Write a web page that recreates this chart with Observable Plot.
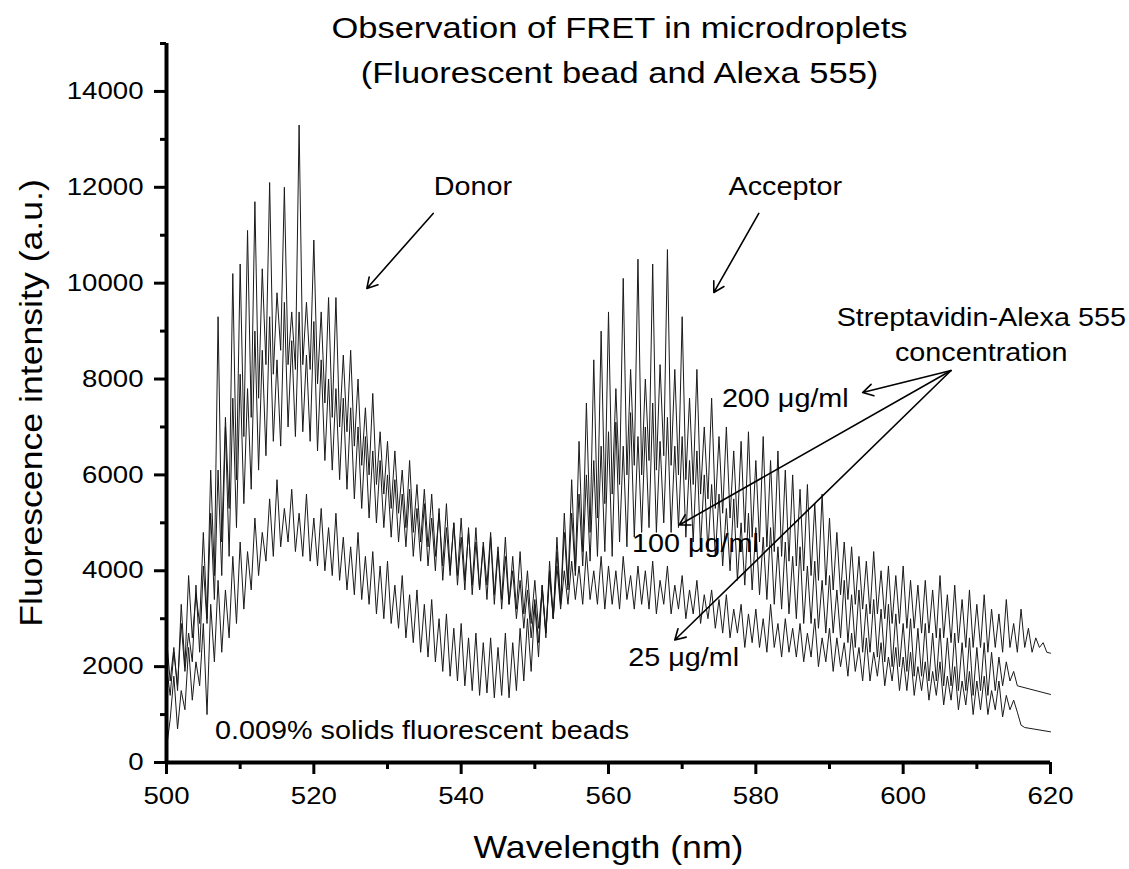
<!DOCTYPE html>
<html>
<head>
<meta charset="utf-8">
<script src="https://cdn.jsdelivr.net/npm/d3@7"></script>
<script src="https://cdn.jsdelivr.net/npm/@observablehq/plot@0.6"></script>
<style>html,body{margin:0;padding:0;background:#fff}</style>
</head>
<body>
<div id="chart"></div>
<script>
// ---------------- DATA ----------------
const wavelength = [
500,500.5,501,501.5,502,502.5,503,503.5,504,504.5,
505,505.5,506,506.5,507,507.5,508,508.5,509,509.5,
510,510.5,511,511.5,512,512.5,513,513.5,514,514.5,
515,515.5,516,516.5,517,517.5,518,518.5,519,519.5,
520,520.5,521,521.5,522,522.5,523,523.5,524,524.5,
525,525.5,526,526.5,527,527.5,528,528.5,529,529.5,
530,530.5,531,531.5,532,532.5,533,533.5,534,534.5,
535,535.5,536,536.5,537,537.5,538,538.5,539,539.5,
540,540.5,541,541.5,542,542.5,543,543.5,544,544.5,
545,545.5,546,546.5,547,547.5,548,548.5,549,549.5,
550,550.5,551,551.5,552,552.5,553,553.5,554,554.5,
555,555.5,556,556.5,557,557.5,558,558.5,559,559.5,
560,560.5,561,561.5,562,562.5,563,563.5,564,564.5,
565,565.5,566,566.5,567,567.5,568,568.5,569,569.5,
570,570.5,571,571.5,572,572.5,573,573.5,574,574.5,
575,575.5,576,576.5,577,577.5,578,578.5,579,579.5,
580,580.5,581,581.5,582,582.5,583,583.5,584,584.5,
585,585.5,586,586.5,587,587.5,588,588.5,589,589.5,
590,590.5,591,591.5,592,592.5,593,593.5,594,594.5,
595,595.5,596,596.5,597,597.5,598,598.5,599,599.5,
600,600.5,601,601.5,602,602.5,603,603.5,604,604.5,
605,605.5,606,606.5,607,607.5,608,608.5,609,609.5,
610,610.5,611,611.5,612,612.5,613,613.5,614,614.5,
615,615.5,616,616.5,617,617.5,618,618.5,619,619.5,
620];

// 25 ug/ml (strongest donor, weakest acceptor)
const conc25 = [
2600,1700,2400,1500,3300,2000,3900,2600,3500,2900,
4800,3000,6100,3900,9300,4600,7200,5300,10200,5900,
10400,6800,11100,7200,11700,7600,10300,8300,12100,8100,
9800,8600,12000,8300,9400,8200,13300,8300,9600,8200,
10900,7900,9400,7500,9700,7200,9700,7000,8500,6900,
8600,6600,8000,6200,7400,6000,7700,5800,6900,5600,
6700,5300,6500,5200,6100,4900,6300,4800,5800,4600,
5700,4500,5600,4300,5200,4100,5400,4000,5000,3900,
5100,3800,4800,3700,4900,3600,4600,3700,4800,3500,
4500,3400,4700,3300,4300,3200,4400,3100,4000,2900,
3800,2800,3600,2700,3900,3000,4100,3200,4000,3300,
4200,3400,4100,3300,4400,3400,4000,3300,4300,3200,
4100,3300,4000,3200,4300,3400,3900,3200,4100,3300,
4000,3200,4200,3100,3800,3300,4100,3100,3700,3200,
3900,3000,3600,3100,3800,2900,3500,3000,3600,2800,
3400,2700,3500,2600,3200,2700,3300,2400,3100,2500,
3200,2400,3000,2300,3300,2400,2900,2200,3000,2300,
2800,2200,2900,2100,2700,2200,3000,2000,2600,2100,
2800,1900,2600,2000,2500,1800,2700,1900,2400,1700,
2600,1700,2300,1800,2500,1600,2200,1700,2400,1500,
2200,1500,2300,1400,2000,1500,2100,1300,1900,1400,
2100,1200,1800,1300,2000,1100,1700,1200,1900,1000,
1700,1100,1800,1000,1500,1100,1700,950,1400,1100,
1300,1050,780,730,null,null,null,null,null,null,
640];

// 100 ug/ml
const conc100 = [
2000,1400,2300,1600,2900,1900,2700,2100,3700,2300,
4100,2900,5200,3400,6100,3900,7000,4300,7600,4900,
8100,5400,7800,5700,9000,6100,8600,6400,9300,6700,
8400,6600,9600,7000,8800,6800,9400,6900,8500,6700,
9200,6500,8400,6300,8000,6100,7800,5900,7600,5700,
7400,5500,7000,5300,6800,5100,6500,5000,6300,4900,
6000,4700,5900,4600,5600,4500,5700,4300,5300,4200,
5400,4100,5100,4000,5300,3800,4900,3900,5000,3700,
4700,3600,4900,3500,4600,3600,4500,3400,4700,3300,
4400,3200,4300,3300,4000,3000,3800,2800,3600,2600,
3400,2500,3700,2700,4000,3000,4400,3300,4800,3600,
5200,3900,5600,4100,6000,4200,6300,4300,6600,4400,
6900,4300,7100,4600,6600,4500,7300,4700,6800,4800,
7000,4900,7500,4800,6700,5000,7200,4800,6600,4900,
6800,4700,6300,4600,6500,4500,6000,4400,5800,4300,
5600,4100,5300,4000,5500,3800,5000,3700,5200,3600,
4900,3500,4700,3400,4900,3300,4500,3200,4600,3100,
4300,3000,4500,2900,4100,2900,4200,2800,3800,2700,
3900,2700,3600,2600,3800,2500,3500,2400,3600,2300,
3300,2300,3400,2200,3200,2100,3300,2000,3100,2000,
2900,1900,3000,1800,2800,1800,2900,1700,2700,1700,
2800,1600,2600,1600,2700,1500,2500,1500,2600,1400,
2400,1500,2500,1400,2300,1500,2200,1600,2100,1700,
1900,1600,null,null,null,null,null,null,null,null,
1420];

// 200 ug/ml (weakest donor, strongest acceptor)
const conc200 = [
300,900,1800,700,1500,1100,2400,1300,2100,1600,
2900,1000,3300,2100,3800,2300,3600,2600,4300,2900,
4600,3200,4400,3600,5100,3900,4800,4200,5500,4300,
5900,4500,5300,4600,5700,4400,5200,4300,5600,4200,
5100,4100,5300,4000,4900,3900,5200,3800,4700,3600,
4500,3500,4800,3400,4300,3300,4400,3100,4100,3000,
4200,2900,3700,2800,3900,2600,3500,2500,3600,2300,
3300,2200,3400,2100,3000,1900,3100,1800,2800,1700,
2900,1600,2600,1500,2700,1400,2500,1450,2600,1350,
2400,1400,2700,1350,2500,1500,2800,1700,3000,1900,
3300,2200,3700,2600,4200,3000,4700,3300,5200,3700,
5900,4000,6700,4400,7500,4800,8400,5100,9000,5400,
9400,5600,7800,5800,10100,6000,8200,6200,10500,6000,
8000,6300,10400,6100,8300,6400,10700,6200,8200,6000,
9300,5900,7600,5800,8200,5600,7000,5500,7600,5300,
6800,5200,7000,5100,6500,4900,6700,4800,6900,4700,
6300,4600,6800,4500,6300,4400,6500,4300,6100,4200,
6000,4100,5700,4000,5800,3900,5400,3800,5600,3700,
5100,3600,4800,3500,4600,3400,4500,3300,4300,3200,
4200,3100,4400,3100,4000,3000,4100,2900,3900,2900,
4100,2800,3800,2800,3700,2700,3800,2700,3600,2600,
3900,2600,3500,2500,3700,2500,3400,2400,3600,2400,
3300,2400,3500,2300,3200,2400,3100,2300,3400,2400,
2900,2300,3200,2400,2800,2300,2600,2400,2500,2300,
2280];

const seriesNames = ["25 μg/ml", "100 μg/ml", "200 μg/ml"];
const xMajorTicks = [500, 520, 540, 560, 580, 600, 620];
const xMinorTicks = [510, 530, 550, 570, 590, 610];
const yMajorTicks = [0, 2000, 4000, 6000, 8000, 10000, 12000, 14000];
const yMinorTicks = [1000, 3000, 5000, 7000, 9000, 11000, 13000, 15000];

const titleLines = ["Observation of FRET in microdroplets", "(Fluorescent bead and Alexa 555)"];
const xLabel = "Wavelength (nm)";
const yLabel = "Fluorescence intensity (a.u.)";

// ---------------- BUILD ----------------
const rows = [];
[conc25, conc100, conc200].forEach((vals, k) => {
  vals.forEach((v, i) => {
    if (v != null) rows.push({series: seriesNames[k], wavelength: wavelength[i], intensity: v});
  });
});

const FONT = "'Liberation Sans', Arial, Helvetica, sans-serif";
const STRETCH = 1.15;

// annotation placement (in data units)
const notes = [
  {text: "Donor", x: 541.6, y: 12000},
  {text: "Acceptor", x: 584.0, y: 12000},
  {text: "Streptavidin-Alexa 555", x: 610.6, y: 9283},
  {text: "concentration", x: 610.6, y: 8553},
  {text: "200 μg/ml", x: 584.0, y: 7593},
  {text: "100 μg/ml", x: 571.8, y: 4564},
  {text: "25 μg/ml", x: 570.2, y: 2186}
];
const footNote = [{text: "0.009% solids fluorescent beads", x: 506.6, y: 662}];
const arrows = [
  {x1: 536.2, y1: 11455, x2: 527.2, y2: 9890},
  {x1: 580.4, y1: 11455, x2: 574.3, y2: 9806},
  {x1: 606.5, y1: 8177, x2: 594.5, y2: 7718},
  {x1: 606.5, y1: 8177, x2: 569.6, y2: 4956},
  {x1: 606.5, y1: 8177, x2: 569.0, y2: 2555}
];

const W = 1129, H = 869;
const mL = 166, mR = 79, mT = 43, mB = 107;
const frameCX = mL + (W - mL - mR) / 2;
const titleCX = 619;

const svg = Plot.plot({
  width: W, height: H,
  marginLeft: mL, marginRight: mR, marginTop: mT, marginBottom: mB,
  style: {fontFamily: FONT, background: "#fff", color: "#000", overflow: "visible"},
  x: {domain: [500, 620], label: null},
  y: {domain: [0, 15000], label: null},
  marks: [
    Plot.line(rows, {x: "wavelength", y: "intensity", z: "series", stroke: "#1a1a1a", strokeWidth: 1}),
    Plot.ruleY([0], {strokeWidth: 4, stroke: "#000"}),
    Plot.ruleX([500], {strokeWidth: 4, stroke: "#000"}),
    Plot.axisX({ticks: xMajorTicks, tickSize: 12, tickPadding: 12, strokeWidth: 3, fontSize: 24, label: null, tickFormat: d => String(d)}),
    Plot.axisX({ticks: xMinorTicks, tickSize: 7, strokeWidth: 3, label: null, tickFormat: () => ""}),
    Plot.axisY({ticks: yMajorTicks, tickSize: 12, tickPadding: 11, strokeWidth: 3, fontSize: 24, label: null, tickFormat: d => String(d)}),
    Plot.axisY({ticks: yMinorTicks, tickSize: 6, strokeWidth: 3, label: null, tickFormat: () => ""}),
    Plot.text([titleLines[0]], {text: d => d, frameAnchor: "top", lineAnchor: "middle", textAnchor: "middle", dx: titleCX - frameCX, dy: 28 - mT, fontSize: 30, fill: "#000"}),
    Plot.text([titleLines[1]], {text: d => d, frameAnchor: "top", lineAnchor: "middle", textAnchor: "middle", dx: titleCX - frameCX, dy: 73 - mT, fontSize: 30, fill: "#000"}),
    Plot.text([xLabel], {text: d => d, frameAnchor: "bottom", lineAnchor: "middle", textAnchor: "middle", dy: 848 - (H - mB), fontSize: 31, fill: "#000"}),
    Plot.text([yLabel], {text: d => d, frameAnchor: "left", lineAnchor: "middle", textAnchor: "middle", rotate: -90, dx: 32 - mL, fontSize: 31, fill: "#000"}),
    Plot.arrow(arrows, {x1: "x1", y1: "y1", x2: "x2", y2: "y2", stroke: "#000", strokeWidth: 1.6, headLength: 11}),
    Plot.text(notes, {x: "x", y: "y", text: "text", fontSize: 25, fill: "#000"}),
    Plot.text(footNote, {x: "x", y: "y", text: "text", fontSize: 25, fill: "#000", textAnchor: "start"})
  ]
});

// widen glyphs horizontally around each text's own anchor (the reference lettering is wide)
svg.querySelectorAll("text").forEach(t => {
  let x = parseFloat(t.getAttribute("x"));
  if (!isFinite(x)) x = 0;
  const tr = t.getAttribute("transform") || "";
  t.setAttribute("transform", `${tr} translate(${x},0) scale(${STRETCH},1) translate(${-x},0)`.trim());
});

document.getElementById("chart").appendChild(svg);
</script>
</body>
</html>
